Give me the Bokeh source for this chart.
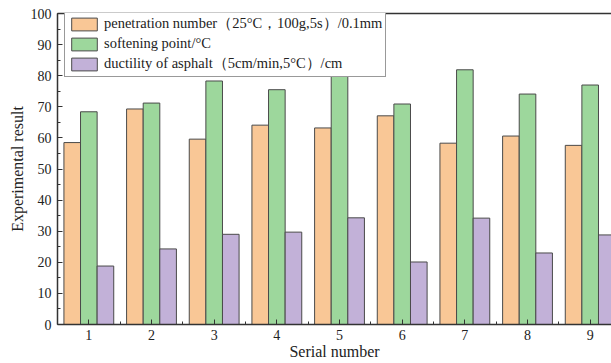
from bokeh.plotting import figure
from bokeh.models import (ColumnDataSource, Range1d, FixedTicker, SingleIntervalTicker,
                          LinearAxis, Legend, LegendItem)
from bokeh.transform import dodge
from bokeh.embed import file_html
from bokeh.resources import INLINE

serial = [1, 2, 3, 4, 5, 6, 7, 8, 9]
penetration = [58.5, 69.3, 59.6, 64.1, 63.2, 67.1, 58.3, 60.6, 57.6]
softening = [68.4, 71.2, 78.3, 75.5, 80.3, 70.9, 81.9, 74.1, 77.0]
ductility = [18.8, 24.3, 29.0, 29.7, 34.3, 20.1, 34.2, 23.0, 28.8]
labels = ["penetration number（25°C，100g,5s）/0.1mm",
          "softening point/°C",
          "ductility of asphalt（5cm/min,5°C）/cm"]
colors = ["#F9C796", "#9DD79C", "#C2B1D8"]

src = ColumnDataSource(dict(x=serial, pen=penetration, soft=softening, duct=ductility))

FONT = "Liberation Serif"

p = figure(width=611, height=363, output_backend="svg", toolbar_location=None,
           x_range=Range1d(0.5, 9.34), y_range=Range1d(0, 100),
           min_border_left=57, min_border_right=0, min_border_top=13, min_border_bottom=39)
p.outline_line_color = None
p.grid.visible = False

w = 0.265
r1 = p.vbar(x=dodge("x", -w, range=p.x_range), top="pen", width=w, source=src,
            fill_color=colors[0], line_color="#4a4a4a", line_width=1)
r2 = p.vbar(x=dodge("x", 0, range=p.x_range), top="soft", width=w, source=src,
            fill_color=colors[1], line_color="#4a4a4a", line_width=1)
r3 = p.vbar(x=dodge("x", w, range=p.x_range), top="duct", width=w, source=src,
            fill_color=colors[2], line_color="#4a4a4a", line_width=1)

xa = p.xaxis[0]
xa.ticker = FixedTicker(ticks=serial, minor_ticks=[1.5, 2.5, 3.5, 4.5, 5.5, 6.5, 7.5, 8.5])
ya = p.yaxis[0]
ya.ticker = SingleIntervalTicker(interval=10, num_minor_ticks=2)

for ax in (xa, ya):
    ax.major_tick_in = 5
    ax.major_tick_out = 0
    ax.minor_tick_in = 3
    ax.minor_tick_out = 0
    ax.axis_line_color = "#333333"
    ax.axis_line_width = 1.5
    ax.major_tick_line_color = "#333333"
    ax.minor_tick_line_color = "#333333"
    ax.major_label_text_font = FONT
    ax.major_label_text_font_size = "14px"
    ax.major_label_text_color = "#222222"
    ax.axis_label_text_font = FONT
    ax.axis_label_text_font_size = "16px"
    ax.axis_label_text_font_style = "normal"
    ax.axis_label_text_color = "#222222"

xa.axis_label = "Serial number"
xa.major_label_standoff = 5
xa.axis_label_standoff = 0
ya.axis_label = "Experimental result"
ya.major_label_standoff = 6
ya.axis_label_standoff = 2

top = LinearAxis(ticker=FixedTicker(ticks=[]), major_label_text_font_size="0px",
                 axis_line_color="#333333", axis_line_width=1.5,
                 major_tick_line_color=None, minor_tick_line_color=None)
p.add_layout(top, "above")

legend = Legend(items=[LegendItem(label=labels[0], renderers=[r1]),
                       LegendItem(label=labels[1], renderers=[r2]),
                       LegendItem(label=labels[2], renderers=[r3])],
                location=(7, 247), orientation="vertical",
                label_text_font=FONT, label_text_font_size="14.5px",
                label_text_color="#222222",
                glyph_width=32, glyph_height=16, label_height=16,
                spacing=2, padding=3, margin=0, label_standoff=4,
                border_line_color="#333333", border_line_width=1,
                background_fill_alpha=1)
p.add_layout(legend, "center")

open("out.html", "w").write(file_html(p, INLINE))
